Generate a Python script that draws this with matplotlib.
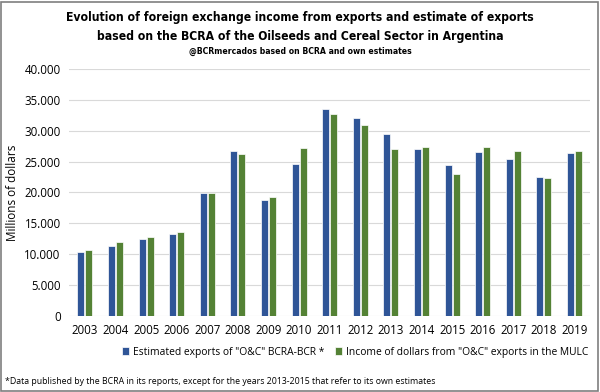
import matplotlib
matplotlib.use("Agg")
import matplotlib.pyplot as plt
import numpy as np
from matplotlib.patches import Rectangle
from matplotlib import font_manager as fm

years = ["2003", "2004", "2005", "2006", "2007", "2008", "2009", "2010", "2011",
         "2012", "2013", "2014", "2015", "2016", "2017", "2018", "2019"]
estimated = [10400, 11300, 12400, 13300, 19900, 26650, 18700, 24650, 33600,
             32100, 29400, 27000, 24450, 26550, 25400, 22550, 26450]
income = [10700, 12000, 12850, 13550, 19900, 26300, 19200, 27250, 32650,
          30900, 27000, 27300, 23000, 27300, 26650, 22300, 26650]
yticks = [0, 5000, 10000, 15000, 20000, 25000, 30000, 35000, 40000]
ytick_labels = ["0", "5.000", "10.000", "15.000", "20.000", "25.000", "30.000", "35.000", "40.000"]

blue = "#2F5597"
green = "#548235"

# pick a condensed bold font if one is installed
cands = []
for f in fm.fontManager.ttflist:
    st = str(f.stretch)
    if ("ondensed" in f.name or "Narrow" in f.name or st in ("condensed", "semi-condensed", "extra-condensed")
            or (isinstance(f.stretch, int) and f.stretch < 500)):
        cands.append(f)
title_props = None
for f in cands:
    if f.weight in ("bold", 700, "heavy", 800, 900) or (isinstance(f.weight, int) and f.weight >= 700):
        title_props = fm.FontProperties(fname=f.fname)
        break
if title_props is None:
    title_props = fm.FontProperties(family="DejaVu Sans", weight="bold")
    tsize, ssize = 8.0, 5.8
else:
    tsize, ssize = 8.7, 6.25

fig = plt.figure(figsize=(6, 3.92), dpi=100)
ax = fig.add_axes([0.115, 0.194, 0.868, 0.630])

x = np.arange(len(years))
w = 0.23
ax.bar(x - 0.13, estimated, w, color=blue, edgecolor="white", linewidth=0.5,
       label='Estimated exports of "O&C" BCRA-BCR *', zorder=3)
ax.bar(x + 0.13, income, w, color=green, edgecolor="white", linewidth=0.5,
       label='Income of dollars from "O&C" exports in the MULC', zorder=3)

ax.set_xlim(-0.52, 16.5)
ax.set_ylim(0, 40000)
ax.set_yticks(yticks)
ax.set_yticklabels(ytick_labels)
ax.set_xticks(x)
ax.set_xticklabels(years)
for s in ax.spines.values():
    s.set_visible(False)
ax.grid(axis="y", color="#D9D9D9", linewidth=0.8, zorder=0)
ax.tick_params(axis="both", length=0, labelsize=8.3, colors="#000000", pad=6)
for lab in ax.get_xticklabels() + ax.get_yticklabels():
    lab.set_fontfamily("Open Sans")
ax.set_ylabel("Millions of dollars", fontsize=8.5, fontfamily="Open Sans", labelpad=4)

tp = title_props.copy()
tp.set_size(tsize)
sp = title_props.copy()
sp.set_size(ssize)
fig.text(0.5, 0.955, "Evolution of foreign exchange income from exports and estimate of exports",
         ha="center", va="center", fontproperties=tp)
fig.text(0.5, 0.907, "based on the BCRA of the Oilseeds and Cereal Sector in Argentina",
         ha="center", va="center", fontproperties=tp)
fig.text(0.5, 0.868, "@BCRmercados based on BCRA and own estimates",
         ha="center", va="center", fontproperties=sp)

leg = fig.legend(loc="center", bbox_to_anchor=(0.592, 0.102), ncol=2, frameon=False,
                 prop={"family": "Open Sans", "size": 7.4}, handlelength=0.7, handleheight=0.7,
                 handletextpad=0.4, columnspacing=1.0)

fig.text(0.008, 0.027, "*Data published by the BCRA in its reports, except for the years 2013-2015 that refer to its own estimates",
         ha="left", va="center", fontsize=6.3, fontfamily="Open Sans")

fig.patches.append(Rectangle((0.002, 0.003), 0.995, 0.993, transform=fig.transFigure,
                             fill=False, edgecolor="#7F7F7F", linewidth=1.2))

fig.savefig("out.png", dpi=100)
